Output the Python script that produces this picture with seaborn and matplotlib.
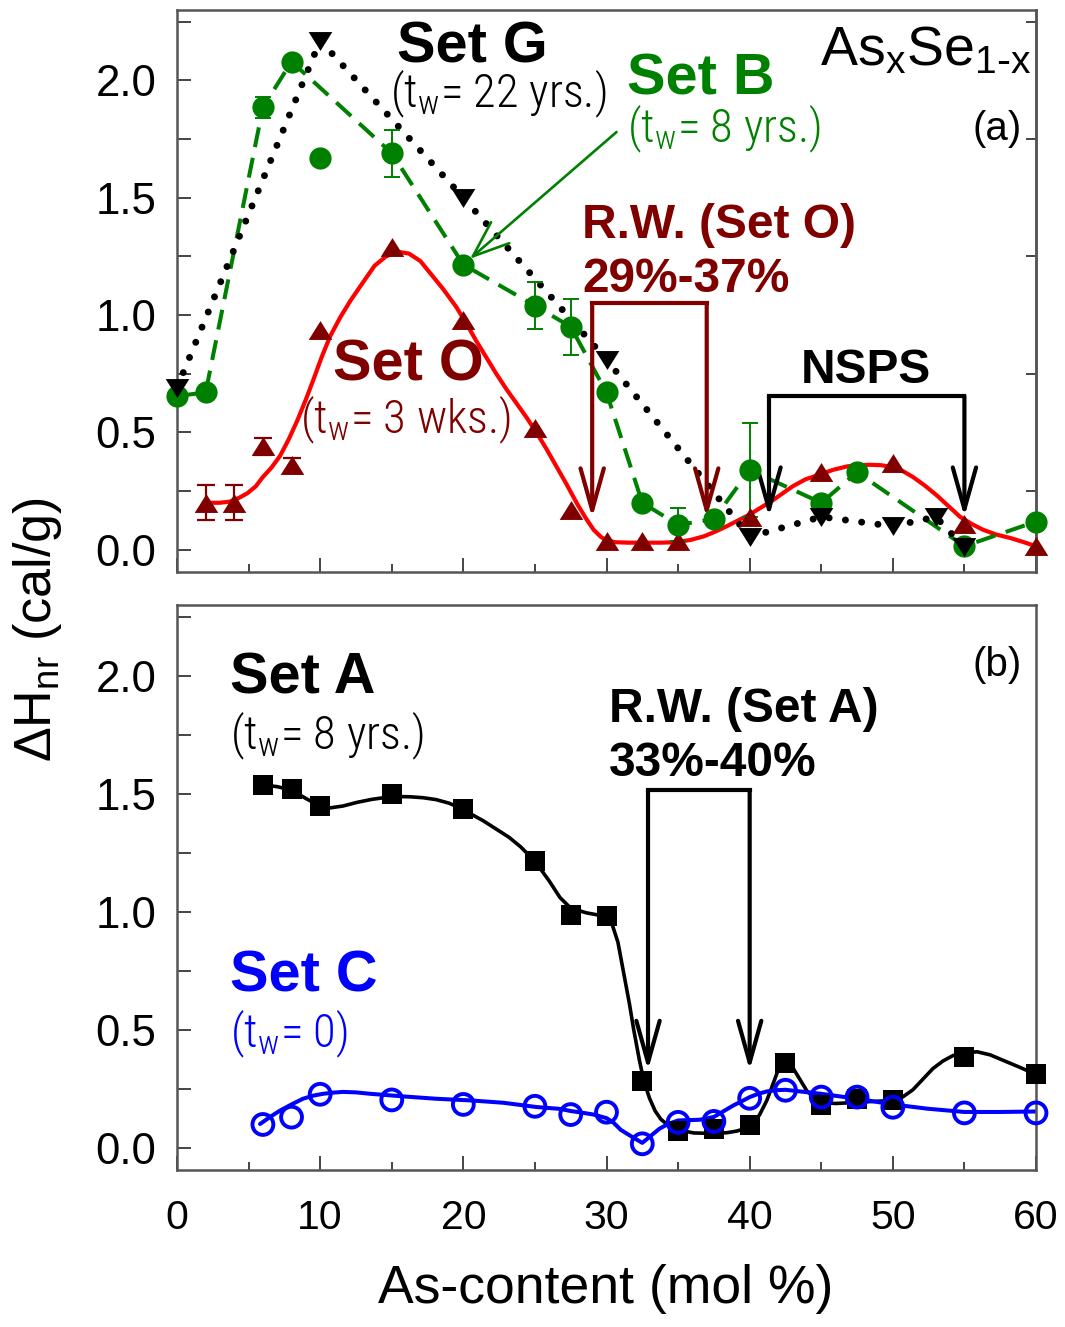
import numpy as np
import pandas as pd
import matplotlib
matplotlib.use("Agg")
import matplotlib.pyplot as plt
import seaborn as sns
from matplotlib import font_manager as fm
from matplotlib.ticker import MultipleLocator, FixedLocator, FormatStrFormatter

# ---------------- data ----------------
# Panel (a)
set_g_x = [0, 10, 20, 30, 40, 45, 50, 53, 55]
set_g_y = [0.69, 2.17, 1.50, 0.81, 0.055, 0.14, 0.10, 0.14, 0.01]

set_b_x = [0, 2, 6, 8, 10, 15, 20, 25, 27.5, 30, 32.5, 35, 37.5, 40, 45, 47.5, 55, 60]
set_b_y = [0.655, 0.67, 1.885, 2.08, 1.67, 1.69, 1.215, 1.04, 0.95, 0.67, 0.20, 0.106,
           0.13, 0.34, 0.20, 0.33, 0.015, 0.12]
set_b_err = [0, 0, 0.045, 0, 0, 0.10, 0, 0.10, 0.12, 0, 0, 0.07, 0, 0.20, 0, 0, 0, 0]
set_b_line_x = [0, 2, 6, 8, 15, 20, 25, 27.5, 30, 32.5, 35, 37.5, 40, 45, 47.5, 55, 60]
set_b_line_y = [0.655, 0.67, 1.885, 2.08, 1.69, 1.215, 1.04, 0.95, 0.67, 0.20, 0.106,
                0.13, 0.34, 0.20, 0.33, 0.015, 0.12]

set_o_x = [2, 4, 6, 8, 10, 15, 20, 25, 27.5, 30, 32.5, 35, 40, 45, 50, 55, 60]
set_o_y = [0.20, 0.20, 0.44, 0.36, 0.935, 1.29, 0.98, 0.52, 0.17, 0.035, 0.035, 0.035,
           0.14, 0.33, 0.37, 0.11, 0.015]
set_o_err = [0.075, 0.075, 0.035, 0.03, 0, 0, 0, 0, 0, 0, 0, 0, 0, 0, 0, 0, 0]
set_o_fit_x = [2.0, 3.0, 3.7, 4.3, 4.9, 5.5, 6.0, 6.6, 7.2, 7.8, 8.4, 9.0, 9.5, 10.1, 10.7,
               11.4, 12.1, 13.0, 13.8, 14.6, 15.4, 16.2, 17.0, 17.8, 18.6, 19.5, 20.2, 20.9,
               21.6, 22.3, 23.0, 23.7, 24.4, 25.1, 25.8, 26.5, 27.2, 28.0, 28.6, 29.1, 29.6,
               30.0, 30.6, 31.5, 32.6, 33.8, 34.9, 35.9, 36.8, 37.6, 38.4, 39.2, 40.0, 40.8,
               41.6, 42.3, 43.0, 43.9, 44.9, 45.8, 46.8, 47.6, 48.4, 49.2, 50.0, 50.7, 51.4,
               52.2, 53.1, 53.9, 54.7, 55.5, 56.3, 57.2, 58.2, 59.1, 60.0]
set_o_fit_y = [0.20, 0.20, 0.205, 0.22, 0.24, 0.27, 0.31, 0.35, 0.40, 0.47, 0.55, 0.64, 0.72,
               0.82, 0.91, 0.99, 1.06, 1.14, 1.21, 1.25, 1.27, 1.262, 1.23, 1.17, 1.11, 1.035,
               0.965, 0.89, 0.82, 0.75, 0.685, 0.625, 0.565, 0.50, 0.43, 0.355, 0.28, 0.19,
               0.13, 0.085, 0.055, 0.04, 0.032, 0.03, 0.03, 0.03, 0.032, 0.042, 0.057, 0.077,
               0.10, 0.125, 0.15, 0.18, 0.21, 0.24, 0.27, 0.30, 0.32, 0.34, 0.355, 0.36, 0.362,
               0.36, 0.352, 0.335, 0.31, 0.275, 0.23, 0.185, 0.14, 0.11, 0.085, 0.065, 0.05,
               0.033, 0.015]

# Panel (b)
set_a_x = [6, 8, 10, 15, 20, 25, 27.5, 30, 32.5, 35, 37.5, 40, 42.5, 45, 47.5, 50, 55, 60]
set_a_y = [1.537, 1.519, 1.446, 1.498, 1.434, 1.214, 0.987, 0.98, 0.281, 0.07, 0.08, 0.094,
           0.359, 0.18, 0.204, 0.20, 0.385, 0.31]
set_a_fit_x = [6, 7, 8, 9, 10, 10.7, 11.6, 12.55, 13.6, 14.65, 15.5, 16.3, 17.2, 18.1, 19.0,
               20.0, 20.5, 21.4, 22.3, 23.2, 24.0, 25.0, 26.0, 26.75, 27.5, 28.6, 29.5, 30.0,
               30.4, 30.8, 31.2, 31.6, 31.9, 32.3, 32.6, 33.0, 33.4, 33.8, 34.2, 35.0, 36.1,
               37.5, 38.4, 39.1, 39.8, 40.25, 40.7, 41.2, 41.6, 42.0, 42.5, 42.9, 43.3, 44.0,
               44.6, 45.2, 46.0, 47.0, 47.7, 48.8, 50.0, 50.7, 51.4, 52.1, 52.8, 53.5, 54.2,
               55.0, 55.9, 56.8, 57.7, 58.8, 60.0]
set_a_fit_y = [1.537, 1.53, 1.515, 1.48, 1.447, 1.44, 1.448, 1.463, 1.476, 1.485, 1.488, 1.487,
               1.483, 1.475, 1.46, 1.434, 1.415, 1.385, 1.35, 1.315, 1.275, 1.214, 1.13, 1.06,
               1.015, 0.995, 0.985, 0.975, 0.945, 0.87, 0.74, 0.61, 0.50, 0.37, 0.285, 0.21,
               0.155, 0.12, 0.10, 0.075, 0.062, 0.06, 0.063, 0.07, 0.083, 0.10, 0.14, 0.20,
               0.265, 0.33, 0.36, 0.35, 0.31, 0.24, 0.205, 0.19, 0.187, 0.19, 0.193, 0.196,
               0.20, 0.215, 0.245, 0.29, 0.335, 0.367, 0.39, 0.402, 0.406, 0.393, 0.37, 0.342,
               0.31]

set_c_x = [6, 8, 10, 15, 20, 25, 27.5, 30, 32.5, 35, 37.5, 40, 42.5, 45, 47.5, 50, 55, 60]
set_c_y = [0.098, 0.129, 0.226, 0.202, 0.183, 0.175, 0.14, 0.15, 0.016, 0.107, 0.111, 0.209,
           0.243, 0.214, 0.214, 0.171, 0.147, 0.147]
set_c_fit_x = [5.8, 6.5, 7.2, 8.0, 8.8, 9.5, 10.2, 10.9, 11.6, 12.5, 13.5, 15.8, 18.1, 20.5,
               22.8, 25.1, 26.75, 27.5, 28.3, 29.1, 30.0, 30.5, 31.0, 31.8, 32.5, 33.1, 33.7,
               34.3, 35.0, 36.5, 37.5, 38.2, 38.9, 39.5, 40.0, 40.6, 41.2, 41.8, 42.5, 45.0,
               47.5, 50.0, 52.4, 55.0, 57.5, 60.0]
set_c_fit_y = [0.10, 0.13, 0.157, 0.183, 0.207, 0.22, 0.228, 0.233, 0.236, 0.234, 0.228,
               0.217, 0.207, 0.20, 0.19, 0.172, 0.164, 0.155, 0.148, 0.14, 0.125, 0.105, 0.075,
               0.045, 0.02, 0.05, 0.08, 0.10, 0.115, 0.118, 0.13, 0.155, 0.18, 0.198, 0.214,
               0.228, 0.238, 0.243, 0.245, 0.228, 0.207, 0.183, 0.165, 0.151, 0.151, 0.153]

x_ticks = [0, 10, 20, 30, 40, 50, 60]
y_ticks = [0.0, 0.5, 1.0, 1.5, 2.0]

# ---------------- styling ----------------
sns.set_theme(style="ticks")
plt.rcParams["font.family"] = ["Liberation Sans", "DejaVu Sans"]
plt.rcParams["mathtext.default"] = "regular"
plt.rcParams["axes.edgecolor"] = "#555555"

fam_names = {f.name for f in fm.fontManager.ttflist}
cond_family = None
cond_stretch = "normal"
for cand in ["Roboto Condensed", "Liberation Sans Narrow", "Archivo Narrow",
             "Asap Condensed", "Open Sans Condensed"]:
    if cand in fam_names:
        cond_family = cand
        break
if cond_family is None:
    cond_family = "DejaVu Sans"
    cond_stretch = "condensed"
COND = dict(family=[cond_family, "DejaVu Sans"], stretch=cond_stretch, fontweight="light")
COND_SIZE = 33.5
SET_SIZE = 41.5
RW_SIZE = 34.5

GREEN = "#008000"
MAROON = "#800000"
RED = "#FF0000"
BLUE = "#0000FF"
BLACK = "#000000"

# wide, flat triangle markers like the reference
TRI_DOWN = [(-1.0, 0.8), (1.0, 0.8), (0.0, -0.8)]
TRI_UP = [(-1.0, -0.8), (1.0, -0.8), (0.0, 0.8)]

W, H = 1065, 1327
fig = plt.figure(figsize=(W / 100, H / 100), dpi=100)
axA = fig.add_axes([177 / W, 1 - 572 / H, (1036 - 177) / W, (572 - 10) / H])
axB = fig.add_axes([177 / W, 1 - 1170 / H, (1036 - 177) / W, (1170 - 605) / H])

for ax in (axA, axB):
    ax.set_xlim(0, 60)
    ax.set_ylim(-0.095, 2.30)
    ax.xaxis.set_major_locator(FixedLocator(x_ticks))
    ax.xaxis.set_minor_locator(MultipleLocator(5))
    ax.yaxis.set_major_locator(FixedLocator(y_ticks))
    ax.yaxis.set_minor_locator(MultipleLocator(0.25))
    ax.tick_params(axis="both", which="both", direction="in", color="#444444",
                   width=1.4, top=False, right=False, labelcolor=BLACK)
    ax.tick_params(axis="x", which="major", length=10, pad=21, labelsize=29.5)
    ax.tick_params(axis="x", which="minor", length=6)
    ax.tick_params(axis="y", which="both", length=10, pad=15, labelsize=31.5)
    for sp in ax.spines.values():
        sp.set_linewidth(1.8)
        sp.set_color("#555555")
    ax.set_xlabel("")
    ax.set_ylabel("")
    ax.yaxis.set_major_formatter(FormatStrFormatter("%.1f"))
axA.tick_params(axis="x", labelbottom=False)

sec = axA.secondary_yaxis("right")
sec.set_yticks([0.25, 0.75, 1.25, 1.75, 2.25])
sec.tick_params(direction="in", length=7, labelright=False, color="#444444", width=1.4)
sec.spines["right"].set_color("#555555")
sec.spines["right"].set_linewidth(1.8)

# ---------------- panel (a) ----------------
sns.lineplot(x=set_o_fit_x, y=set_o_fit_y, ax=axA, color=RED, lw=3.0, sort=False,
             estimator=None, zorder=2)
sns.lineplot(x=set_b_line_x, y=set_b_line_y, ax=axA, color=GREEN, lw=2.9, sort=False,
             estimator=None, linestyle=(0, (5, 2.7)), zorder=2.1)
sns.lineplot(x=set_g_x, y=set_g_y, ax=axA, color=BLACK, lw=5.0, sort=False,
             estimator=None, linestyle=(0, (0.01, 2.35)), dash_capstyle="round", zorder=2.2)

bx = np.array(set_b_x); by = np.array(set_b_y); be = np.array(set_b_err)
m = be > 0
axA.errorbar(bx[m], by[m], yerr=be[m], fmt="none", ecolor=GREEN, elinewidth=1.4,
             capsize=6, capthick=1.4, zorder=2.5)
ox = np.array(set_o_x); oy = np.array(set_o_y); oe = np.array(set_o_err)
m = oe > 0
axA.errorbar(ox[m], oy[m], yerr=oe[m], fmt="none", ecolor=MAROON, elinewidth=1.6,
             capsize=6.5, capthick=1.6, zorder=2.5)

sns.scatterplot(x=set_o_x, y=set_o_y, ax=axA, marker=TRI_UP, s=17 ** 2, color=MAROON,
                linewidth=0, zorder=3, clip_on=False)
sns.scatterplot(x=set_b_x, y=set_b_y, ax=axA, marker="o", s=16 ** 2, color=GREEN,
                linewidth=0, zorder=3.1, clip_on=False)
sns.scatterplot(x=set_g_x, y=set_g_y, ax=axA, marker=TRI_DOWN, s=17 ** 2, color=BLACK,
                linewidth=0, zorder=3.2, clip_on=False)


def bracket(ax, x1, x2, top, tip, color, lw=3.0):
    ax.plot([x1, x2], [top, top], color=color, lw=lw, solid_capstyle="projecting",
            zorder=2.6)
    for xx in (x1, x2):
        ax.annotate("", xy=(xx, tip), xytext=(xx, top),
                    arrowprops=dict(arrowstyle="->,head_length=1.5,head_width=0.42",
                                    color=color, lw=lw, shrinkA=0, shrinkB=0,
                                    mutation_scale=20), zorder=2.6)


bracket(axA, 29.0, 37.0, 1.05, 0.136, MAROON)
bracket(axA, 41.35, 55.0, 0.655, 0.14, BLACK)
axA.annotate("", xy=(20.47, 1.24), xytext=(30.7, 1.78),
             arrowprops=dict(arrowstyle="->,head_length=1.3,head_width=0.5", color=GREEN,
                             lw=1.9, shrinkA=0, shrinkB=0, mutation_scale=20), zorder=4)

axA.text(20.6, 2.077, "Set G", ha="center", va="baseline", fontsize=SET_SIZE,
         fontweight="bold", color=BLACK)
axA.text(14.9, 1.885, "(t$_w$= 22 yrs.)", ha="left", va="baseline", fontsize=COND_SIZE,
         color=BLACK, **COND)
axA.text(31.4, 1.94, "Set B", ha="left", va="baseline", fontsize=SET_SIZE, fontweight="bold",
         color=GREEN)
axA.text(31.4, 1.737, "(t$_w$= 8 yrs.)", ha="left", va="baseline", fontsize=COND_SIZE,
         color=GREEN, **COND)
axA.text(44.9, 2.064, r"As$_x$Se$_{1\text{-}x}$", ha="left", va="baseline", fontsize=40,
         color=BLACK)
axA.text(59.0, 1.745, "(a)", ha="right", va="baseline", fontsize=29, color=BLACK)
axA.text(28.3, 1.328, "R.W. (Set O)", ha="left", va="baseline", fontsize=RW_SIZE,
         fontweight="bold", color=MAROON)
axA.text(28.3, 1.098, "29%-37%", ha="left", va="baseline", fontsize=RW_SIZE,
         fontweight="bold", color=MAROON)
axA.text(10.9, 0.723, "Set O", ha="left", va="baseline", fontsize=SET_SIZE,
         fontweight="bold", color=MAROON)
axA.text(8.6, 0.497, "(t$_w$= 3 wks.)", ha="left", va="baseline", fontsize=COND_SIZE,
         color=MAROON, **COND)
axA.text(48.1, 0.71, "NSPS", ha="center", va="baseline", fontsize=RW_SIZE,
         fontweight="bold", color=BLACK)

# ---------------- panel (b) ----------------
sns.lineplot(x=set_a_fit_x, y=set_a_fit_y, ax=axB, color=BLACK, lw=2.6, sort=False,
             estimator=None, zorder=2)
sns.lineplot(x=set_c_fit_x, y=set_c_fit_y, ax=axB, color=BLUE, lw=2.9, sort=False,
             estimator=None, zorder=2.1)
sns.scatterplot(x=set_a_x, y=set_a_y, ax=axB, marker="s", s=14.5 ** 2, color=BLACK,
                linewidth=0, zorder=3, clip_on=False)
sns.scatterplot(x=set_c_x, y=set_c_y, ax=axB, marker="o", s=15 ** 2, color=BLUE,
                linewidth=2.8, edgecolor=BLUE, zorder=3.1, clip_on=False)
axB.collections[-1].set_facecolor("none")

bracket(axB, 32.9, 40.0, 1.515, 0.328, BLACK)

axB.text(3.7, 1.923, "Set A", ha="left", va="baseline", fontsize=SET_SIZE, fontweight="bold",
         color=BLACK)
axB.text(3.7, 1.689, "(t$_w$= 8 yrs.)", ha="left", va="baseline", fontsize=COND_SIZE,
         color=BLACK, **COND)
axB.text(59.0, 2.0, "(b)", ha="right", va="baseline", fontsize=29, color=BLACK)
axB.text(30.2, 1.804, "R.W. (Set A)", ha="left", va="baseline", fontsize=RW_SIZE,
         fontweight="bold", color=BLACK)
axB.text(30.2, 1.574, "33%-40%", ha="left", va="baseline", fontsize=RW_SIZE,
         fontweight="bold", color=BLACK)
axB.text(3.7, 0.66, "Set C", ha="left", va="baseline", fontsize=SET_SIZE, fontweight="bold",
         color=BLUE)
axB.text(3.7, 0.426, "(t$_w$= 0)", ha="left", va="baseline", fontsize=COND_SIZE, color=BLUE,
         **COND)

# axis titles
fig.text(605.5 / W, 1 - 1303 / H, "As-content (mol %)", ha="center", va="baseline",
         fontsize=38.5, color=BLACK)
fig.text(38 / W, 1 - 630 / H, "ΔH$_{nr}$ (cal/g)", ha="center", va="center",
         rotation=90, fontsize=37.5, color=BLACK)

fig.savefig("out.png", dpi=100)
